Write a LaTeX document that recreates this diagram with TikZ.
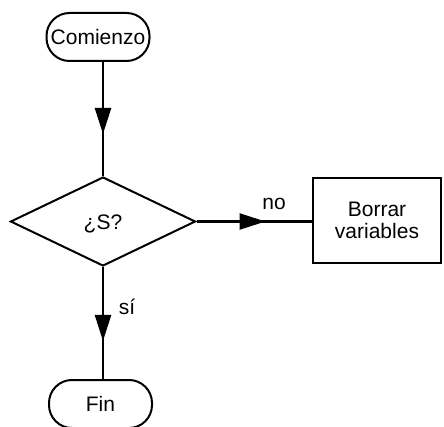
\documentclass[tikz,border=0pt]{standalone}
\usepackage{fontspec}
\setmainfont{Liberation Sans}
\usetikzlibrary{shapes.geometric,arrows.meta,decorations.markings}
\begin{document}
\begin{tikzpicture}[x=1pt,y=-1pt,
  every node/.style={font=\fontsize{21}{22}\selectfont},
  pill/.style={draw,line width=2pt,rounded corners=23pt,minimum width=103pt,minimum height=48pt,inner sep=0pt},
  decision/.style={draw,diamond,line width=2pt,minimum width=185pt,minimum height=89pt,inner sep=0pt},
  procbox/.style={draw,line width=2pt,minimum width=128pt,minimum height=85pt,align=center,inner sep=0pt},
  conn/.style={line width=2.4pt},
  midarrow/.style={decoration={markings,mark=at position #1 with {\arrow{Triangle[length=26pt,width=16pt]}}},postaction={decorate}},
  lbl/.style={inner sep=0pt}]
\useasboundingbox (0,0) rectangle (444,427);
\node[pill] (start) at (98,37) {Comienzo};
\node[decision] (dec) at (103,221.5) {};
\node at (103,224) (q) {¿S?};
\node[procbox] (borrar) at (377,220.5) {Borrar\\variables};
\node[pill] (fin) at (100.5,404) {Fin};
\draw[conn,midarrow=72pt] (start.south -| dec.north) -- (dec.north);
\draw[conn,midarrow=69pt] (dec.east) -- (dec.east -| borrar.west);
\draw[conn,midarrow=74pt] (dec.south) -- (dec.south |- fin.north);
\node[lbl] (no) at (274,204) {no};
\node[lbl] (si) at (127,307) {sí};
\end{tikzpicture}
\end{document}
